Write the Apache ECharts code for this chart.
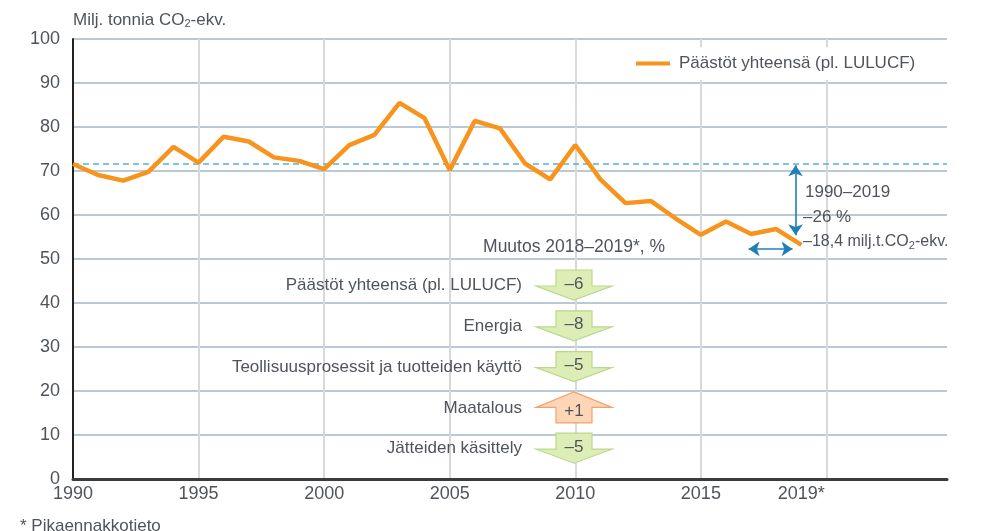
<!DOCTYPE html>
<html>
<head>
<meta charset="utf-8">
<script src="https://cdn.jsdelivr.net/npm/echarts@6/dist/echarts.min.js"></script>
<style>
html,body{margin:0;padding:0;background:#fff;}
#chart{width:996px;height:531px;}
</style>
</head>
<body>
<div id="chart"></div>
<script>
// vuosittaiset päästöt, milj. t CO2-ekv.
var years = [1990,1991,1992,1993,1994,1995,1996,1997,1998,1999,
             2000,2001,2002,2003,2004,2005,2006,2007,2008,2009,
             2010,2011,2012,2013,2014,2015,2016,2017,2018,2019];
var emissions = [71.6,69.1,67.8,69.8,75.5,71.9,77.8,76.7,73.1,72.3,
                 70.4,75.9,78.2,85.5,82.0,70.2,81.4,79.7,71.7,68.1,
                 75.9,68.1,62.7,63.2,59.2,55.5,58.5,55.7,56.8,53.2];
var xTicks = [1990,1995,2000,2005,2010,2015,2019];
var sectors = ['Päästöt yhteensä (pl. LULUCF)','Energia','Teollisuusprosessit ja tuotteiden käyttö','Maatalous','Jätteiden käsittely'];
var changes = [-6,-8,-5,1,-5];
var changePct = -26;
var changeMt = -18.4;

var seriesName = 'Päästöt yhteensä (pl. LULUCF)';
var txt = '#4f545b';
var font = 'Liberation Sans, Arial, sans-serif';

function fi(v) {
    // suomalainen muoto: –18,4 / +1
    var s = String(Math.abs(v)).replace('.', ',');
    return (v < 0 ? '–' : '+') + s;
}

var pts = years.map(function (y, i) { return [y, emissions[i]]; });

// muutosnuolet
var graphics = [];
var cx = 574, cy0 = 285, dy = 40.8;
sectors.forEach(function (name, i) {
    var cy = cy0 + i * dy;
    var up = changes[i] > 0;
    var p = up
        ? [[cx, cy - 15.5], [cx + 38, cy], [cx + 18, cy], [cx + 18, cy + 15.5], [cx - 18, cy + 15.5], [cx - 18, cy], [cx - 38, cy]]
        : [[cx - 18, cy - 15], [cx + 18, cy - 15], [cx + 18, cy + 1], [cx + 38, cy + 1], [cx, cy + 15], [cx - 38, cy + 1], [cx - 18, cy + 1]];
    graphics.push({
        type: 'polygon', z: 50,
        shape: { points: p },
        style: { fill: up ? '#fdd6b8' : '#ddedb6', stroke: up ? '#f5a168' : '#bad98c', lineWidth: 1.2 }
    });
    graphics.push({
        type: 'text', z: 51, x: cx, y: up ? cy + 4 : cy - 1,
        style: { text: changes[i] > 0 ? '+' + changes[i] : '–' + Math.abs(changes[i]),
                 fill: txt, font: '17px ' + font, align: 'center', verticalAlign: 'middle' }
    });
    graphics.push({
        type: 'text', z: 51, x: 522, y: cy + 0.5,
        style: { text: name, fill: txt, font: '17px ' + font, align: 'right', verticalAlign: 'middle' }
    });
});
graphics.push({
    type: 'text', z: 51, x: 665, y: 247,
    style: { text: 'Muutos 2018–2019*, %', fill: txt, font: '17.5px ' + font, align: 'right', verticalAlign: 'middle' }
});
graphics.push({
    type: 'text', z: 51, x: 805, y: 192,
    style: { text: years[0] + '–' + years[years.length - 1], fill: txt, font: '17px ' + font, align: 'left', verticalAlign: 'middle' }
});
graphics.push({
    type: 'text', z: 51, x: 803, y: 217,
    style: { text: fi(changePct) + ' %', fill: txt, font: '17px ' + font, align: 'left', verticalAlign: 'middle' }
});
graphics.push({
    type: 'text', z: 51, x: 803, y: 242,
    style: {
        text: '{a|' + fi(changeMt) + ' milj.t.CO}{s|2}{a|-ekv.}',
        align: 'left', verticalAlign: 'middle',
        rich: {
            a: { fontSize: 16, fontFamily: font, fill: txt, color: txt },
            s: { fontSize: 11, fontFamily: font, fill: txt, color: txt, padding: [7, 0, 0, 0] }
        }
    }
});
graphics.push({
    type: 'text', z: 51, x: 20, y: 526,
    style: { text: '* Pikaennakkotieto', fill: txt, font: '17px ' + font, align: 'left', verticalAlign: 'middle' }
});

var chart = echarts.init(document.getElementById('chart'));
chart.setOption({
    animation: false,
    textStyle: { fontFamily: font },
    grid: { left: 73, right: 49, top: 39, bottom: 52 },
    legend: {
        data: [seriesName],
        left: 624, top: 47,
        padding: [8, 14, 8, 12],
        backgroundColor: '#fff',
        icon: 'rect', itemWidth: 34, itemHeight: 4,
        textStyle: { fontSize: 17, color: txt, padding: [0, 0, 0, 4] }
    },
    xAxis: {
        type: 'value', min: 1990, max: 2024.8, interval: 5,
        axisLine: { lineStyle: { color: '#3b3b3b', width: 3 } },
        axisTick: { show: false },
        splitLine: { show: true, showMinLine: false, showMaxLine: false, lineStyle: { color: '#d9d9d9', width: 2 } },
        axisLabel: {
            customValues: xTicks,
            formatter: function (v) { return v === 2019 ? '2019*' : String(v); },
            fontSize: 18, color: txt, margin: 6
        }
    },
    yAxis: {
        type: 'value', min: 0, max: 100, interval: 10,
        name: '{a|Milj. tonnia CO}{s|2}{a|-ekv.}',
        nameLocation: 'end', nameGap: 10,
        nameTextStyle: {
            align: 'left', verticalAlign: 'bottom',
            rich: {
                a: { fontSize: 17, color: txt, fontFamily: font },
                s: { fontSize: 11, color: txt, fontFamily: font, padding: [7, 0, 0, 0] }
            }
        },
        axisLine: { show: true, lineStyle: { color: '#222', width: 2 } },
        axisTick: { show: false },
        splitLine: { showMinLine: false, lineStyle: { color: '#a3b8c7', width: 1.5 } },
        axisLabel: { fontSize: 18, color: txt, margin: 13 }
    },
    series: [{
        name: seriesName,
        type: 'line',
        data: pts,
        showSymbol: false,
        symbol: 'none',
        lineStyle: { color: '#f7941d', width: 4.5 },
        itemStyle: { color: '#f7941d' },
        z: 5,
        markLine: {
            silent: true,
            symbol: ['none', 'none'],
            label: { show: false },
            lineStyle: { color: '#56b1d8', width: 1.5, type: [6, 4] },
            data: [{ yAxis: emissions[0] }]
        }
    }, {
        // muutosnuolet 1990–2019 ja 2018–2019
        name: 'nuolet',
        type: 'line',
        data: [],
        z: 6,
        markLine: {
            silent: true,
            symbol: ['arrow', 'arrow'],
            symbolSize: 11,
            label: { show: false },
            lineStyle: { color: '#1f7fb6', width: 1.6, type: 'solid' },
            data: [
                [{ coord: [2018.77, 71.3] }, { coord: [2018.77, 55.4] }],
                [{ coord: [2016.9, 52.3] }, { coord: [2018.65, 52.3] }]
            ]
        }
    }],
    graphic: graphics
});
</script>
</body>
</html>
